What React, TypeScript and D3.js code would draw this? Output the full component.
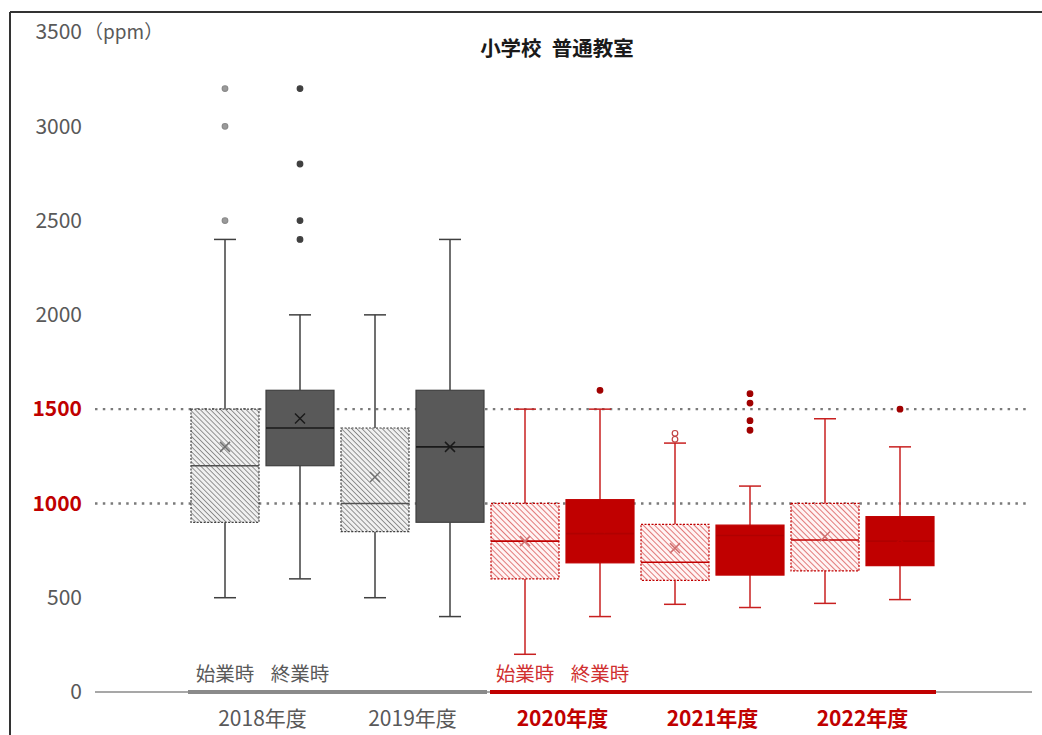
import React from "react";
import * as d3 from "d3";

const title = "小学校\u2002普通教室";
const years = ["2018年度", "2019年度", "2020年度", "2021年度", "2022年度"];
const timings = ["始業時", "終業時"];
const yTicks = [0, 500, 1000, 1500, 2000, 2500, 3000, 3500];
const refLines = [1000, 1500];

// one entry per box: year index order, start then end
const boxYear = [0, 0, 1, 1, 2, 2, 3, 3, 4, 4];
const boxTiming = [0, 1, 0, 1, 0, 1, 0, 1, 0, 1];
const whiskerLow = [500, 600, 500, 400, 200, 400, 465, 448, 470, 490];
const q1 = [900, 1200, 850, 900, 600, 685, 592, 620, 642, 670];
const median = [1200, 1400, 1000, 1300, 800, 840, 688, 830, 806, 800];
const q3 = [1500, 1600, 1400, 1600, 1000, 1020, 889, 885, 1000, 930];
const whiskerHigh = [2400, 2000, 2000, 2400, 1500, 1500, 1320, 1092, 1449, 1300];
const means = [1300, 1450, 1140, 1300, 800, 870, 763, 790, 825, 810];
const outliers = [
  [2500, 3000, 3200],
  [2400, 2500, 2800, 3200],
  [],
  [],
  [],
  [1600],
  [1340, 1372],
  [1388, 1439, 1532, 1582],
  [],
  [1500],
];

const RED = "#c00000";
const GRAY_TXT = "#595959";
const FONT = "'Noto Sans CJK JP', 'Noto Sans', sans-serif";

export default function App() {
  const W = 1042;
  const H = 735;
  const y = d3.scaleLinear().domain([0, 3500]).range([692, 32]);
  const xYear = d3.scaleBand<string>().domain(years).range([187.5, 937.5]).padding(0);
  const xTiming = d3.scaleBand<string>().domain(timings).range([0, xYear.bandwidth()]).padding(0);
  const boxW = 68;
  const capW = 22;

  const cx = (i: number) =>
    (xYear(years[boxYear[i]]) as number) + (xTiming(timings[boxTiming[i]]) as number) + xTiming.bandwidth() / 2;

  const isRed = (i: number) => boxYear[i] >= 2;
  const isHatched = (i: number) => boxTiming[i] === 0;

  const styleFor = (i: number) => {
    if (!isRed(i)) {
      if (isHatched(i))
        return { fill: "url(#hatchGray)", stroke: "#404040", dash: "2 1.5", median: "#505050", whisker: "#404040", mean: "#707070", outFill: "#9a9a9a", outStroke: "#8a8a8a" };
      return { fill: "#595959", stroke: "#404040", dash: "", median: "#1a1a1a", whisker: "#404040", mean: "#1a1a1a", outFill: "#404040", outStroke: "#404040" };
    }
    if (isHatched(i))
      return { fill: "url(#hatchRed)", stroke: RED, dash: "2 1.5", median: RED, whisker: "#c82020", mean: "#d07070", outFill: "#ffffff", outStroke: "#c04040" };
    return { fill: RED, stroke: RED, dash: "", median: "#b00000", whisker: "#c82020", mean: RED, outFill: "#a00000", outStroke: "#a00000" };
  };

  const idx = d3.range(q1.length);

  return (
    <svg width={W} height={H} style={{ position: "absolute", left: 0, top: 0, background: "#fff" }} fontFamily={FONT}>
      <defs>
        <pattern id="hatchGray" patternUnits="userSpaceOnUse" width="3.6" height="3.6" patternTransform="rotate(45)">
          <rect width="3.6" height="3.6" fill="#f0f0f0" />
          <line x1="0" y1="0" x2="3.6" y2="0" stroke="#606060" strokeWidth="1.3" />
        </pattern>
        <pattern id="hatchRed" patternUnits="userSpaceOnUse" width="4" height="4" patternTransform="rotate(45)">
          <rect width="4" height="4" fill="#fff4f4" />
          <line x1="0" y1="0" x2="4" y2="0" stroke="#d02828" strokeWidth="1.2" />
        </pattern>
      </defs>

      {/* frame */}
      <line x1={10} y1={12} x2={W} y2={12} stroke="#333" strokeWidth={2} />
      <line x1={10} y1={12} x2={10} y2={H} stroke="#333" strokeWidth={2} />

      {/* title */}
      <text x={557} y={56} textAnchor="middle" fontSize={20.5} fontWeight="bold" fill="#1a1a1a">
        {title}
      </text>

      {/* y tick labels */}
      {yTicks.map((t) => {
        const red = refLines.includes(t);
        return (
          <text
            key={t}
            x={82}
            y={y(t)}
            dy="0.35em"
            textAnchor="end"
            fontSize={21}
            fontWeight={red ? "bold" : "normal"}
            fill={red ? RED : GRAY_TXT}
          >
            {t}
          </text>
        );
      })}
      <text x={84} y={y(3500)} dy="0.35em" fontSize={19} fill={GRAY_TXT}>
        （ppm）
      </text>

      {/* reference lines */}
      {refLines.map((r) => (
        <line key={r} x1={95} x2={1030} y1={y(r)} y2={y(r)} stroke="#7a7a7a" strokeWidth={2.4} strokeDasharray="2.5 5.3" />
      ))}

      {/* boxes */}
      {idx.map((i) => {
        const s = styleFor(i);
        const c = cx(i);
        const m = 5;
        return (
          <g key={i}>
            <line x1={c} x2={c} y1={y(q3[i])} y2={y(whiskerHigh[i])} stroke={s.whisker} strokeWidth={1.5} />
            <line x1={c} x2={c} y1={y(q1[i])} y2={y(whiskerLow[i])} stroke={s.whisker} strokeWidth={1.5} />
            <line x1={c - capW / 2} x2={c + capW / 2} y1={y(whiskerHigh[i])} y2={y(whiskerHigh[i])} stroke={s.whisker} strokeWidth={1.5} />
            <line x1={c - capW / 2} x2={c + capW / 2} y1={y(whiskerLow[i])} y2={y(whiskerLow[i])} stroke={s.whisker} strokeWidth={1.5} />
            <rect
              x={c - boxW / 2}
              y={y(q3[i])}
              width={boxW}
              height={y(q1[i]) - y(q3[i])}
              fill={s.fill}
              stroke={s.stroke}
              strokeWidth={1.2}
              strokeDasharray={s.dash || undefined}
            />
            <line x1={c - boxW / 2} x2={c + boxW / 2} y1={y(median[i])} y2={y(median[i])} stroke={s.median} strokeWidth={1.6} />
            <g stroke={s.mean} strokeWidth={1.5}>
              <line x1={c - m} x2={c + m} y1={y(means[i]) - m} y2={y(means[i]) + m} />
              <line x1={c - m} x2={c + m} y1={y(means[i]) + m} y2={y(means[i]) - m} />
            </g>
            {outliers[i].map((o, k) => (
              <circle key={k} cx={c} cy={y(o)} r={2.8} fill={s.outFill} stroke={s.outStroke} strokeWidth={1.2} />
            ))}
          </g>
        );
      })}

      {/* x axis */}
      <line x1={95} x2={1032} y1={y(0)} y2={y(0)} stroke="#8a8a8a" strokeWidth={1.5} />
      <line x1={188} x2={487} y1={y(0)} y2={y(0)} stroke="#8a8a8a" strokeWidth={4} />
      <line x1={490} x2={936} y1={y(0)} y2={y(0)} stroke={RED} strokeWidth={4} />

      {/* timing labels */}
      {[0, 2].map((yi) =>
        timings.map((t) => (
          <text
            key={yi + t}
            x={(xYear(years[yi]) as number) + (xTiming(t) as number) + xTiming.bandwidth() / 2}
            y={681}
            textAnchor="middle"
            fontSize={19.5}
            fill={yi >= 2 ? "#d03030" : GRAY_TXT}
          >
            {t}
          </text>
        ))
      )}

      {/* year labels */}
      {years.map((yr, k) => (
        <text
          key={yr}
          x={(xYear(yr) as number) + xYear.bandwidth() / 2}
          y={726}
          textAnchor="middle"
          fontSize={21}
          fontWeight={k >= 2 ? "bold" : "normal"}
          fill={k >= 2 ? RED : GRAY_TXT}
        >
          {yr}
        </text>
      ))}
    </svg>
  );
}
